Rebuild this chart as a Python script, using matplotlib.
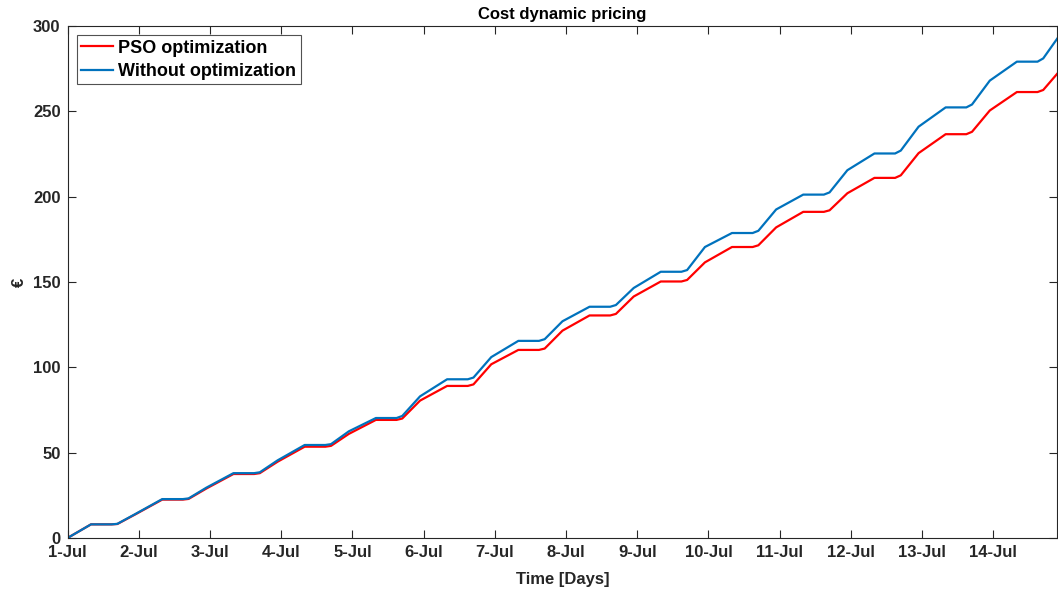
import matplotlib
matplotlib.use("Agg")
import matplotlib.pyplot as plt
import numpy as np

plt.rcParams['font.family'] = ['Liberation Sans', 'DejaVu Sans']

# Key times within each day (fraction of day): plateau start, plateau end, gentle rise, evening kink
day_offsets = [0.33, 0.62, 0.70, 0.95]
n_days = 14
t_end = 13.9

# Cumulative cost (EUR) at the key times of each day
pso_daily = [
    [8.0, 8.0, 8.2, 13.8],
    [22.5, 22.5, 22.9, 29.0],
    [37.5, 37.5, 38.0, 44.7],
    [53.5, 53.5, 54.0, 61.0],
    [69.2, 69.2, 70.0, 80.5],
    [89.1, 89.1, 90.0, 101.8],
    [110.2, 110.2, 111.0, 121.5],
    [130.4, 130.4, 131.3, 141.5],
    [150.3, 150.3, 151.2, 161.5],
    [170.5, 170.5, 171.5, 182.0],
    [191.1, 191.1, 192.0, 202.0],
    [211.0, 211.0, 212.5, 225.5],
    [236.6, 236.6, 238.0, 250.5],
    [261.3, 261.3, 262.5],
]
pso_end = 272.2

noopt_daily = [
    [8.0, 8.0, 8.3, 14.0],
    [22.8, 22.8, 23.2, 29.5],
    [38.0, 38.0, 38.5, 45.5],
    [54.5, 54.5, 55.0, 62.5],
    [70.3, 70.3, 71.5, 83.0],
    [93.0, 93.0, 94.0, 106.0],
    [115.5, 115.5, 116.5, 127.0],
    [135.5, 135.5, 136.5, 146.5],
    [156.0, 156.0, 157.0, 170.5],
    [178.7, 178.7, 180.0, 192.5],
    [201.2, 201.2, 202.5, 215.5],
    [225.3, 225.3, 227.0, 241.0],
    [252.3, 252.3, 254.0, 268.0],
    [279.1, 279.1, 281.0],
]
noopt_end = 292.8

tick_labels = ['1-Jul', '2-Jul', '3-Jul', '4-Jul', '5-Jul', '6-Jul', '7-Jul',
               '8-Jul', '9-Jul', '10-Jul', '11-Jul', '12-Jul', '13-Jul', '14-Jul']
y_ticks = [0, 50, 100, 150, 200, 250, 300]


def build(daily, end_val):
    t = [0.0]
    v = [0.0]
    for d, vals in enumerate(daily):
        for off, val in zip(day_offsets, vals):
            t.append(d + off)
            v.append(val)
    t.append(t_end)
    v.append(end_val)
    return np.array(t), np.array(v)


t_pso, v_pso = build(pso_daily, pso_end)
t_no, v_no = build(noopt_daily, noopt_end)

fig = plt.figure(figsize=(10.58, 5.92), dpi=100)
ax = fig.add_axes([0.0638, 0.0912, 0.9357, 0.8649])

ax.plot(t_pso, v_pso, color=(1, 0, 0), lw=1.6, label='PSO optimization',
        solid_joinstyle='round')
ax.plot(t_no, v_no, color=(0, 0.447, 0.741), lw=1.6, label='Without optimization',
        solid_joinstyle='round')

ax.set_xlim(0, t_end)
ax.set_ylim(0, 300)
ax.set_xticks(np.arange(n_days))
ax.set_xticklabels(tick_labels)
ax.set_yticks(y_ticks)

edge = (0.15, 0.15, 0.15)
for s in ax.spines.values():
    s.set_color(edge)
    s.set_linewidth(0.8)
ax.tick_params(direction='in', length=6, width=0.8, top=True, right=True,
               colors=edge, labelsize=12, pad=5)
for lab in ax.get_xticklabels() + ax.get_yticklabels():
    lab.set_fontweight('bold')
    lab.set_color(edge)

ax.set_title('Cost dynamic pricing', fontsize=12, fontweight='bold', color='black', pad=5)
ax.set_xlabel('Time [Days]', fontsize=12, fontweight='bold', color=edge, labelpad=8.5)
ax.set_ylabel('€', fontsize=12, fontweight='bold', color=edge, labelpad=4.5)

leg = ax.legend(loc='upper left', prop={'weight': 'bold', 'size': 13},
                frameon=True, fancybox=False, borderaxespad=0.5, handlelength=1.75,
                handletextpad=0.3, borderpad=0.25, labelspacing=0.35)
leg.get_frame().set_edgecolor(edge)
leg.get_frame().set_linewidth(0.8)

fig.savefig('out.png', dpi=100)
